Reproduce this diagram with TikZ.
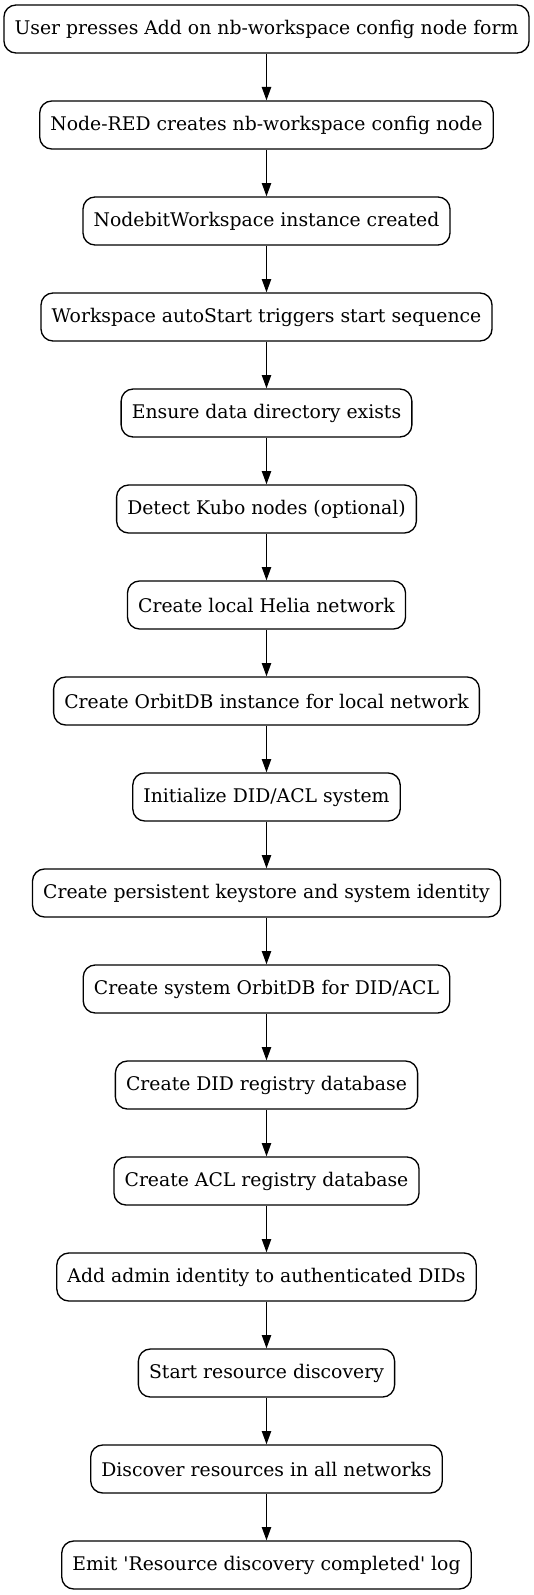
\documentclass[tikz,border=0pt]{standalone}
\usepackage{fontspec}
\newfontfamily\dvs{DejaVu Serif}
\usetikzlibrary{arrows.meta}
\begin{document}
\begin{tikzpicture}[x=0.75pt,y=-0.75pt,
  stepbox/.style={draw=black,line width=1pt,rounded corners=9pt,minimum height=36pt,inner xsep=8pt,inner ysep=0pt,font=\dvs\fontsize{14.1}{16}\selectfont,fill=white},
  flow/.style={draw=black,line width=1pt,-{Triangle[length=10pt,width=7pt]}}]
\useasboundingbox (0,0) rectangle (533,1595);
\foreach \t [count=\i from 0] in {
 User presses Add on nb-workspace config node form,
 Node-RED creates nb-workspace config node,
 NodebitWorkspace instance created,
 Workspace autoStart triggers start sequence,
 Ensure data directory exists,
 Detect Kubo nodes (optional),
 Create local Helia network,
 Create OrbitDB instance for local network,
 Initialize DID/ACL system,
 Create persistent keystore and system identity,
 Create system OrbitDB for DID/ACL,
 Create DID registry database,
 Create ACL registry database,
 Add admin identity to authenticated DIDs,
 Start resource discovery,
 Discover resources in all networks,
 {Emit 'Resource discovery completed' log}}
 { \node[stepbox] (n\i) at (266.5,29+96*\i) {\t}; }
\foreach \i [evaluate=\i as \j using int(\i+1)] in {0,...,15}
 { \draw[flow] (n\i) -- (n\j); }
\end{tikzpicture}
\end{document}
